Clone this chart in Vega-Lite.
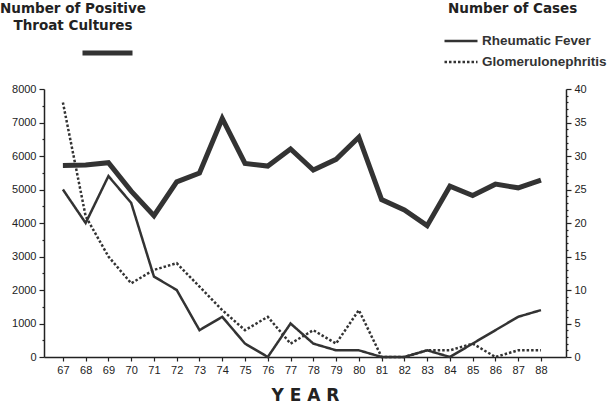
{
  "$schema": "https://vega.github.io/schema/vega-lite/v6.json",
  "width": 522,
  "height": 268,
  "autosize": {"type": "none"},
  "padding": {"left": 44, "top": 89, "right": 43, "bottom": 51},
  "background": "white",
  "config": {
    "view": {"stroke": null},
    "font": "Liberation Sans",
    "axis": {"domainColor": "#222", "tickColor": "#222", "labelColor": "#222", "grid": false, "domainWidth": 1.5, "tickWidth": 1.2, "labelFontSize": 11, "labelFont": "Liberation Sans"},
    "axisX": {"labelOverlap": false, "labelFlush": false},
    "legend": {"padding": 0, "titleFont": "DejaVu Sans", "labelFont": "Liberation Sans"}
  },
  "datasets": {
    "throat": [
      {"year": 67, "series": "Positive Throat Cultures", "cultures": 5720},
      {"year": 68, "series": "Positive Throat Cultures", "cultures": 5730},
      {"year": 69, "series": "Positive Throat Cultures", "cultures": 5800},
      {"year": 70, "series": "Positive Throat Cultures", "cultures": 4950},
      {"year": 71, "series": "Positive Throat Cultures", "cultures": 4220},
      {"year": 72, "series": "Positive Throat Cultures", "cultures": 5230},
      {"year": 73, "series": "Positive Throat Cultures", "cultures": 5490},
      {"year": 74, "series": "Positive Throat Cultures", "cultures": 7120},
      {"year": 75, "series": "Positive Throat Cultures", "cultures": 5780},
      {"year": 76, "series": "Positive Throat Cultures", "cultures": 5700},
      {"year": 77, "series": "Positive Throat Cultures", "cultures": 6210},
      {"year": 78, "series": "Positive Throat Cultures", "cultures": 5580},
      {"year": 79, "series": "Positive Throat Cultures", "cultures": 5900},
      {"year": 80, "series": "Positive Throat Cultures", "cultures": 6560},
      {"year": 81, "series": "Positive Throat Cultures", "cultures": 4700},
      {"year": 82, "series": "Positive Throat Cultures", "cultures": 4390},
      {"year": 83, "series": "Positive Throat Cultures", "cultures": 3920},
      {"year": 84, "series": "Positive Throat Cultures", "cultures": 5100},
      {"year": 85, "series": "Positive Throat Cultures", "cultures": 4820},
      {"year": 86, "series": "Positive Throat Cultures", "cultures": 5160},
      {"year": 87, "series": "Positive Throat Cultures", "cultures": 5050},
      {"year": 88, "series": "Positive Throat Cultures", "cultures": 5280}
    ],
    "cases": [
      {"year": 67, "disease": "Rheumatic Fever", "cases": 25},
      {"year": 68, "disease": "Rheumatic Fever", "cases": 20},
      {"year": 69, "disease": "Rheumatic Fever", "cases": 27},
      {"year": 70, "disease": "Rheumatic Fever", "cases": 23},
      {"year": 71, "disease": "Rheumatic Fever", "cases": 12},
      {"year": 72, "disease": "Rheumatic Fever", "cases": 10},
      {"year": 73, "disease": "Rheumatic Fever", "cases": 4},
      {"year": 74, "disease": "Rheumatic Fever", "cases": 6},
      {"year": 75, "disease": "Rheumatic Fever", "cases": 2},
      {"year": 76, "disease": "Rheumatic Fever", "cases": 0},
      {"year": 77, "disease": "Rheumatic Fever", "cases": 5},
      {"year": 78, "disease": "Rheumatic Fever", "cases": 2},
      {"year": 79, "disease": "Rheumatic Fever", "cases": 1},
      {"year": 80, "disease": "Rheumatic Fever", "cases": 1},
      {"year": 81, "disease": "Rheumatic Fever", "cases": 0},
      {"year": 82, "disease": "Rheumatic Fever", "cases": 0},
      {"year": 83, "disease": "Rheumatic Fever", "cases": 1},
      {"year": 84, "disease": "Rheumatic Fever", "cases": 0},
      {"year": 85, "disease": "Rheumatic Fever", "cases": 2},
      {"year": 86, "disease": "Rheumatic Fever", "cases": 4},
      {"year": 87, "disease": "Rheumatic Fever", "cases": 6},
      {"year": 88, "disease": "Rheumatic Fever", "cases": 7},
      {"year": 67, "disease": "Glomerulonephritis", "cases": 38},
      {"year": 68, "disease": "Glomerulonephritis", "cases": 21},
      {"year": 69, "disease": "Glomerulonephritis", "cases": 15},
      {"year": 70, "disease": "Glomerulonephritis", "cases": 11},
      {"year": 71, "disease": "Glomerulonephritis", "cases": 13},
      {"year": 72, "disease": "Glomerulonephritis", "cases": 14},
      {"year": 73, "disease": "Glomerulonephritis", "cases": 10.5},
      {"year": 74, "disease": "Glomerulonephritis", "cases": 7},
      {"year": 75, "disease": "Glomerulonephritis", "cases": 4},
      {"year": 76, "disease": "Glomerulonephritis", "cases": 6},
      {"year": 77, "disease": "Glomerulonephritis", "cases": 2},
      {"year": 78, "disease": "Glomerulonephritis", "cases": 4},
      {"year": 79, "disease": "Glomerulonephritis", "cases": 2},
      {"year": 80, "disease": "Glomerulonephritis", "cases": 7},
      {"year": 81, "disease": "Glomerulonephritis", "cases": 0},
      {"year": 82, "disease": "Glomerulonephritis", "cases": 0},
      {"year": 83, "disease": "Glomerulonephritis", "cases": 1},
      {"year": 84, "disease": "Glomerulonephritis", "cases": 1},
      {"year": 85, "disease": "Glomerulonephritis", "cases": 2},
      {"year": 86, "disease": "Glomerulonephritis", "cases": 0},
      {"year": 87, "disease": "Glomerulonephritis", "cases": 1},
      {"year": 88, "disease": "Glomerulonephritis", "cases": 1}
    ]
  },
  "layer": [
    {
      "data": {"name": "throat"},
      "mark": {"type": "line", "strokeWidth": 5, "strokeJoin": "miter"},
      "encoding": {
        "x": {
          "field": "year", "type": "quantitative",
          "scale": {"domain": [66.17, 89.1], "nice": false, "zero": false},
          "axis": {
            "values": [67,68,69,70,71,72,73,74,75,76,77,78,79,80,81,82,83,84,85,86,87,88],
            "format": "d", "tickSize": 4, "labelPadding": 3, "labelOverlap": false,
            "title": "Y E A R", "titleFontSize": 17, "titleFontWeight": "bold", "titleColor": "#222", "titlePadding": 12, "titleFont": "DejaVu Sans"
          }
        },
        "y": {
          "field": "cultures", "type": "quantitative",
          "scale": {"domain": [0, 8000], "nice": false},
          "axis": {
            "orient": "left", "title": null,
            "values": [0,500,1000,1500,2000,2500,3000,3500,4000,4500,5000,5500,6000,6500,7000,7500,8000],
            "format": "d",
            "labelExpr": "datum.value % 1000 === 0 ? datum.label : ''",
            "tickSize": {"condition": {"test": "datum.value % 1000 === 0", "value": 5}, "value": 2},
            "labelPadding": 3
          }
        },
        "stroke": {
          "field": "series", "type": "nominal",
          "scale": {"range": ["#333333"]},
          "legend": {
            "title": ["Number of Positive", "Throat Cultures"],
            "orient": "none", "legendX": -44, "legendY": -87,
            "titleFontSize": 13.5, "titleFontWeight": "bold", "titleColor": "#222", "titleLineHeight": 17,
            "titleAlign": "center", "titleAnchor": "middle", "titlePadding": -7,
            "symbolType": "stroke", "symbolSize": 2500, "symbolStrokeWidth": 5, "symbolOffset": 76,
            "labelExpr": "''"
          }
        }
      }
    },
    {
      "data": {"name": "cases"},
      "mark": {"type": "line", "color": "#333333", "strokeWidth": 2.5},
      "encoding": {
        "x": {
          "field": "year", "type": "quantitative",
          "axis": {
            "values": [67,68,69,70,71,72,73,74,75,76,77,78,79,80,81,82,83,84,85,86,87,88],
            "format": "d", "tickSize": 4, "labelPadding": 3, "labelOverlap": false,
            "title": "Y E A R", "titleFontSize": 17, "titleFontWeight": "bold", "titleColor": "#222", "titlePadding": 12, "titleFont": "DejaVu Sans"
          }
        },
        "y": {
          "field": "cases", "type": "quantitative",
          "scale": {"domain": [0, 40], "nice": false},
          "axis": {
            "orient": "right", "title": null,
            "values": [0,1,2,3,4,5,6,7,8,9,10,11,12,13,14,15,16,17,18,19,20,21,22,23,24,25,26,27,28,29,30,31,32,33,34,35,36,37,38,39,40],
            "format": "d",
            "labelExpr": "datum.value % 5 === 0 ? datum.label : ''",
            "tickSize": {"condition": {"test": "datum.value % 5 === 0", "value": 5}, "value": 2},
            "labelPadding": 3
          }
        },
        "strokeDash": {
          "field": "disease", "type": "nominal",
          "scale": {"domain": ["Rheumatic Fever", "Glomerulonephritis"], "range": [[1, 0], [2.5, 2]]},
          "legend": {
            "title": "Number of Cases",
            "orient": "none", "legendX": 404, "legendY": -87,
            "titleFontSize": 13.5, "titleFontWeight": "bold", "titleColor": "#222", "titlePadding": 14,
            "symbolType": "M-1.65,0H1.65", "symbolSize": 400, "symbolStrokeWidth": 2.5, "symbolStrokeColor": "#333333", "symbolFillColor": "transparent", "symbolOffset": 1.5,
            "labelFontSize": 13.5, "labelFontWeight": "bold", "labelColor": "#333", "labelOffset": 9.5,
            "rowPadding": 3
          }
        }
      }
    }
  ],
  "resolve": {"scale": {"y": "independent"}}
}
